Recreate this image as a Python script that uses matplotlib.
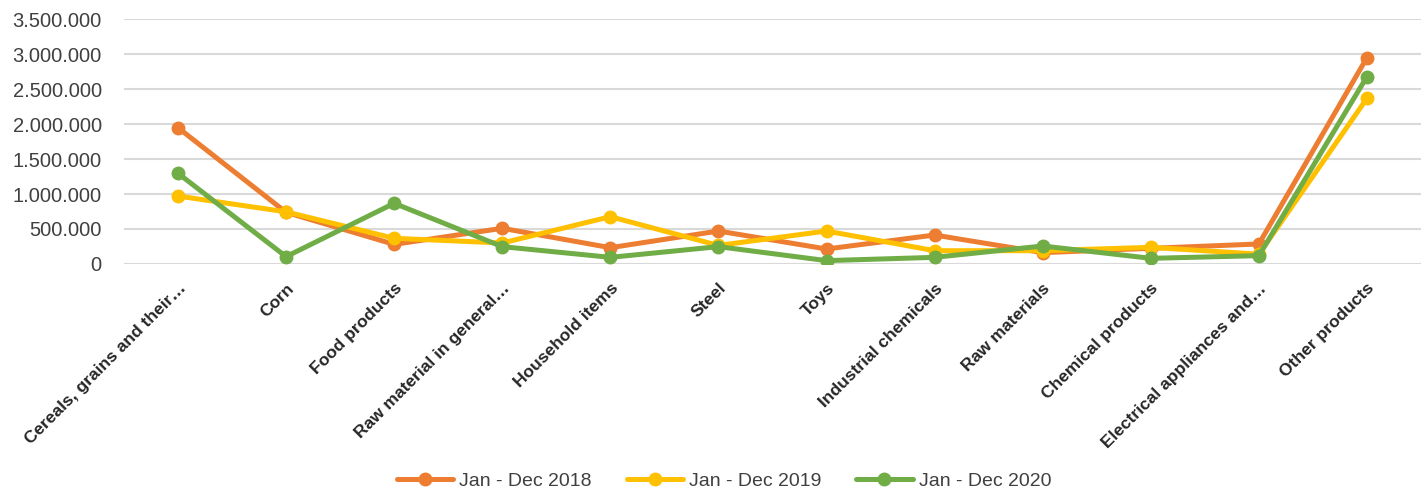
import matplotlib
matplotlib.use("Agg")
import matplotlib.pyplot as plt
from matplotlib.ticker import FuncFormatter, MultipleLocator

categories = ["Cereals, grains and their\u2026", "Corn", "Food products",
              "Raw material in general\u2026", "Household items", "Steel", "Toys",
              "Industrial chemicals", "Raw materials", "Chemical products",
              "Electrical appliances and\u2026", "Other products"]
s2018 = [1947000, 738000, 280000, 510000, 233000, 471000, 214000, 414000, 162000, 224000, 286000, 2948000]
s2019 = [971000, 745000, 367000, 300000, 676000, 265000, 471000, 190000, 190000, 238000, 140000, 2367000]
s2020 = [1296000, 105000, 867000, 248000, 95000, 248000, 48000, 95000, 257000, 81000, 119000, 2676000]
series_names = ["Jan - Dec 2018", "Jan - Dec 2019", "Jan - Dec 2020"]
colors = ["#ED7D31", "#FFC000", "#70AD47"]

plt.rcParams['font.family'] = ['Liberation Sans', 'DejaVu Sans']
fig = plt.figure(figsize=(14.28, 4.94), dpi=100)
ax = fig.add_axes([0.0868, 0.4656, 0.9083, 0.4959])

x = list(range(len(categories)))
for vals, name, c in zip([s2018, s2019, s2020], series_names, colors):
    ax.plot(x, vals, color=c, lw=3.6, marker='o', ms=9, label=name,
            solid_capstyle='round', solid_joinstyle='round')

ax.set_xlim(-0.5, len(categories) - 0.5)
ax.set_ylim(0, 3500000)
ax.yaxis.set_major_locator(MultipleLocator(500000))
ax.yaxis.set_major_formatter(FuncFormatter(lambda v, p: f"{int(v):,}".replace(",", ".")))
ax.grid(axis='y', color='#D9D9D9', lw=1.5)
ax.set_axisbelow(True)
for s in ax.spines.values():
    s.set_visible(False)
ax.tick_params(axis='both', length=0)
ax.tick_params(axis='y', labelsize=14.5, labelcolor='#404040', pad=16)
ax.set_xticks(x)
ax.set_xticklabels(categories, rotation=45, ha='right', va='top',
                   rotation_mode='anchor', fontsize=12.5, fontweight='bold', color='#262626')
ax.tick_params(axis='x', pad=12)

handles, labels = ax.get_legend_handles_labels()
fig.legend(handles, labels, loc='center', bbox_to_anchor=(724 / 1428, 1 - 481 / 494), ncol=3,
           frameon=False, fontsize=14, handlelength=2.9, handletextpad=0.3,
           columnspacing=1.8, labelcolor='#404040')

fig.savefig("out.png", dpi=100)
